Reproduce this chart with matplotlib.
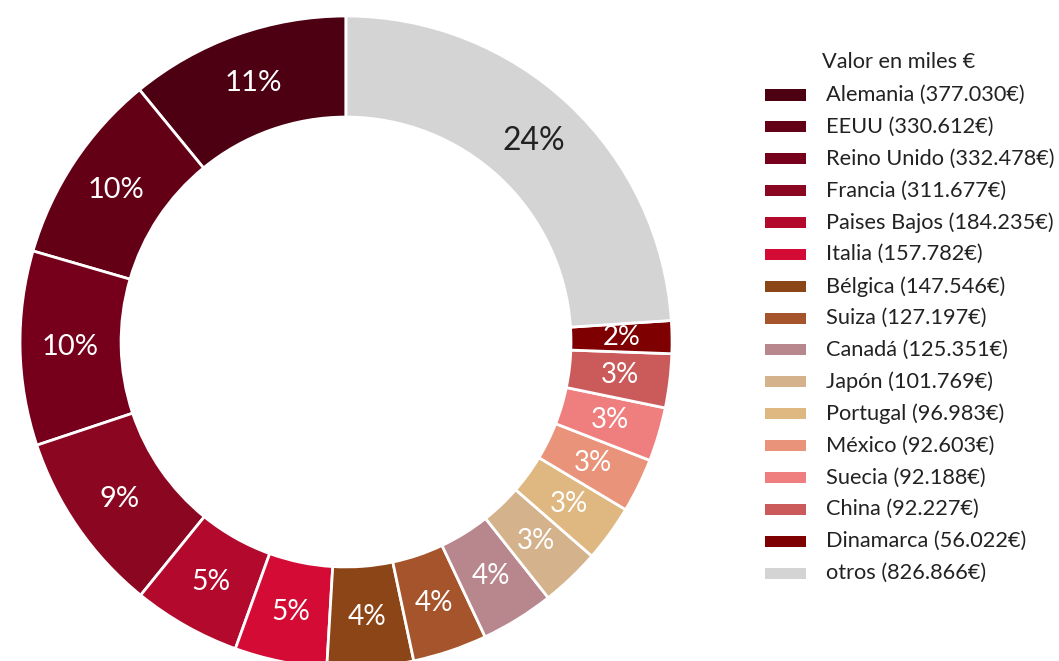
import matplotlib.pyplot as plt
from matplotlib.patches import Rectangle

plt.rcParams['font.family'] = ['Lato', 'DejaVu Sans']

# Data (miles de €)
paises = ["Alemania", "EEUU", "Reino Unido", "Francia", "Paises Bajos", "Italia",
          "Bélgica", "Suiza", "Canadá", "Japón", "Portugal", "México",
          "Suecia", "China", "Dinamarca", "otros"]
valores = [377.030, 330.612, 332.478, 311.677, 184.235, 157.782,
           147.546, 127.197, 125.351, 101.769, 96.983, 92.603,
           92.188, 92.227, 56.022, 826.866]
etiquetas = ["377.030€", "330.612€", "332.478€", "311.677€", "184.235€", "157.782€",
             "147.546€", "127.197€", "125.351€", "101.769€", "96.983€", "92.603€",
             "92.188€", "92.227€", "56.022€", "826.866€"]
colores = ["#4c0012", "#640016", "#76001b", "#8a0621", "#b3092d", "#d40b35",
           "#8c4516", "#a5542c", "#b8868d", "#d3b28c", "#dfb780", "#e8937a",
           "#ef7e7e", "#cb5a5a", "#7e0000", "#d4d4d4"]

fig = plt.figure(figsize=(10.59, 6.61), dpi=100)
ax = fig.add_axes([0.0189, -0.0106, 0.6157, 0.9864])

wedges, texts, autotexts = ax.pie(
    valores, colors=colores, startangle=90, counterclock=True, radius=1,
    autopct='%.0f%%', pctdistance=0.845,
    wedgeprops=dict(width=0.31, edgecolor='white', linewidth=2),
)
ax.set_xlim(-1, 1)
ax.set_ylim(-1, 1)
ax.axis('off')

total = sum(valores)
for t, v, c in zip(autotexts, valores, paises):
    frac = v / total
    t.set_fontsize(min(24, 19.5 + 15 * frac))
    t.set_color('#222222' if c == "otros" else 'white')

# legend, drawn by hand
fig.text(822 / 1059, 1 - 62 / 661, "Valor en miles €", fontsize=15.7,
         color='#222222', va='center', ha='left')
y0, dy = 95, 31.87
for i, (p, e, col) in enumerate(zip(paises, etiquetas, colores)):
    y = y0 + i * dy
    fig.patches.append(Rectangle((765 / 1059, 1 - (y + 5.5) / 661), 41 / 1059, 11 / 661,
                                 transform=fig.transFigure, facecolor=col,
                                 edgecolor='none'))
    fig.text(826 / 1059, 1 - y / 661, f"{p} ({e})", fontsize=15.7,
             color='#222222', va='center', ha='left')

fig.savefig("out.png", dpi=100)
